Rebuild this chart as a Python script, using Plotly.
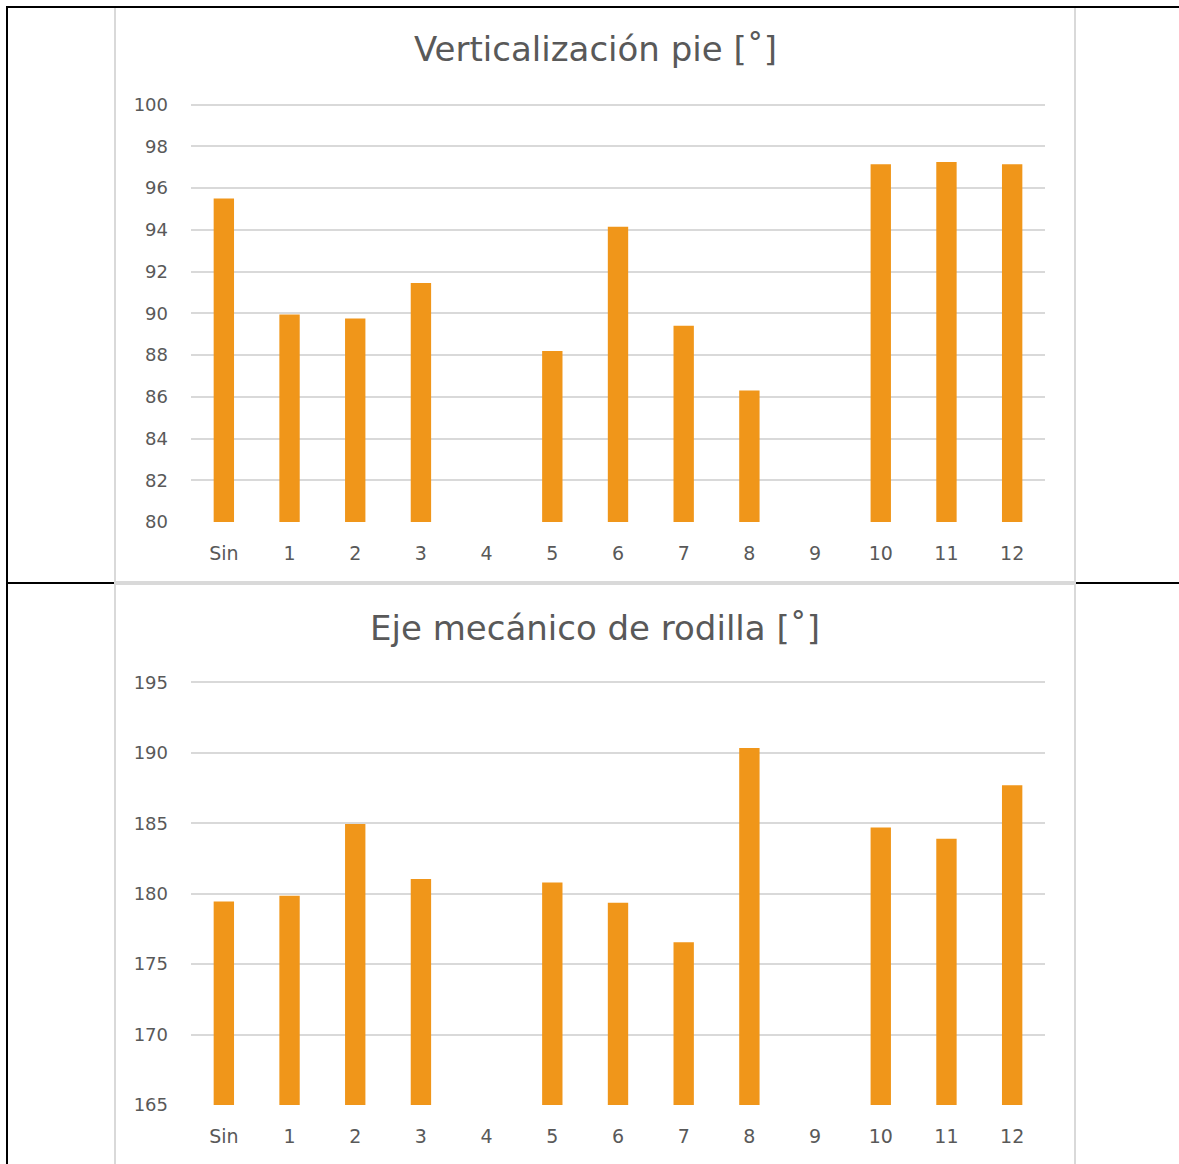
"""
Two bar charts (foot verticalisation and knee mechanical axis) in a table layout.
"""
import plotly.graph_objects as go

W, H = 1179, 1164

categories = ['Sin', '1', '2', '3', '4', '5', '6', '7', '8', '9', '10', '11', '12']

# Verticalización pie [°] -- cases 4 and 9 have no value
pie_values = [95.5, 89.95, 89.75, 91.45, None, 88.2, 94.15, 89.4, 86.3, None,
              97.15, 97.25, 97.15]

# Eje mecánico de rodilla [°]
rodilla_values = [179.45, 179.85, 184.95, 181.05, None, 180.8, 179.35, 176.55,
                  190.35, None, 184.7, 183.9, 187.7]

pie_ticks = [80, 82, 84, 86, 88, 90, 92, 94, 96, 98, 100]
rodilla_ticks = [165, 170, 175, 180, 185, 190, 195]

ORANGE = '#F0961A'
GRID = '#D9D9D9'
TEXT = '#595959'
FONT = 'DejaVu Sans'


def px_x(x):
    return x / W


def px_y(y):
    return 1 - y / H


fig = go.Figure()

fig.add_trace(go.Bar(x=categories, y=pie_values, marker_color=ORANGE,
                     xaxis='x', yaxis='y', showlegend=False))
fig.add_trace(go.Bar(x=categories, y=rodilla_values, marker_color=ORANGE,
                     xaxis='x2', yaxis='y2', showlegend=False))

xaxis_style = dict(type='category', categoryorder='array',
                   categoryarray=categories,
                   showgrid=False, showline=False, ticks='', automargin=False,
                   tickfont=dict(size=19, color=TEXT, family=FONT),
                   ticklabelstandoff=18, fixedrange=True)
yaxis_style = dict(showgrid=True, gridcolor=GRID, gridwidth=2,
                   showline=False, zeroline=False, ticks='', automargin=False,
                   tickfont=dict(size=18, color=TEXT, family=FONT),
                   ticklabelstandoff=22, fixedrange=True)

fig.update_layout(
    template='none',
    width=W, height=H,
    margin=dict(l=0, r=0, t=0, b=0, autoexpand=False),
    paper_bgcolor='white', plot_bgcolor='white',
    bargap=0.69,
    font=dict(family=FONT, color=TEXT),
    xaxis=dict(domain=[px_x(191), px_x(1045)], anchor='y', **xaxis_style),
    yaxis=dict(domain=[px_y(522), px_y(103)], anchor='x', range=[80, 100.08],
               tickvals=pie_ticks, **yaxis_style),
    xaxis2=dict(domain=[px_x(191), px_x(1045)], anchor='y2', **xaxis_style),
    yaxis2=dict(domain=[px_y(1105), px_y(681)], anchor='x2', range=[165, 195.1],
                tickvals=rodilla_ticks, **yaxis_style),
)

# chart titles
fig.add_annotation(text='Verticalización pie [˚]', x=px_x(595), y=px_y(49),
                   xref='paper', yref='paper', showarrow=False,
                   xanchor='center', yanchor='middle',
                   font=dict(size=34, color=TEXT, family=FONT))
fig.add_annotation(text='Eje mecánico de rodilla [˚]', x=px_x(595), y=px_y(628),
                   xref='paper', yref='paper', showarrow=False,
                   xanchor='center', yanchor='middle',
                   font=dict(size=34, color=TEXT, family=FONT))

# chart frames (light grey) and table borders (black)
for y0, y1 in [(7, 582), (584, 1172)]:
    fig.add_shape(type='rect', xref='paper', yref='paper',
                  x0=px_x(115), x1=px_x(1075), y0=px_y(y1), y1=px_y(y0),
                  line=dict(color=GRID, width=2))

black_lines = [
    (7, 6, 7, 1164),
    (6, 7, 1179, 7),
    (6, 583, 114, 583),
    (1076, 583, 1179, 583),
]
for x0, y0, x1, y1 in black_lines:
    fig.add_shape(type='line', xref='paper', yref='paper',
                  x0=px_x(x0), y0=px_y(y0), x1=px_x(x1), y1=px_y(y1),
                  line=dict(color='black', width=2))

fig.write_html('out.html', config={'displayModeBar': False},
               post_script="document.body.style.margin = '0';")
